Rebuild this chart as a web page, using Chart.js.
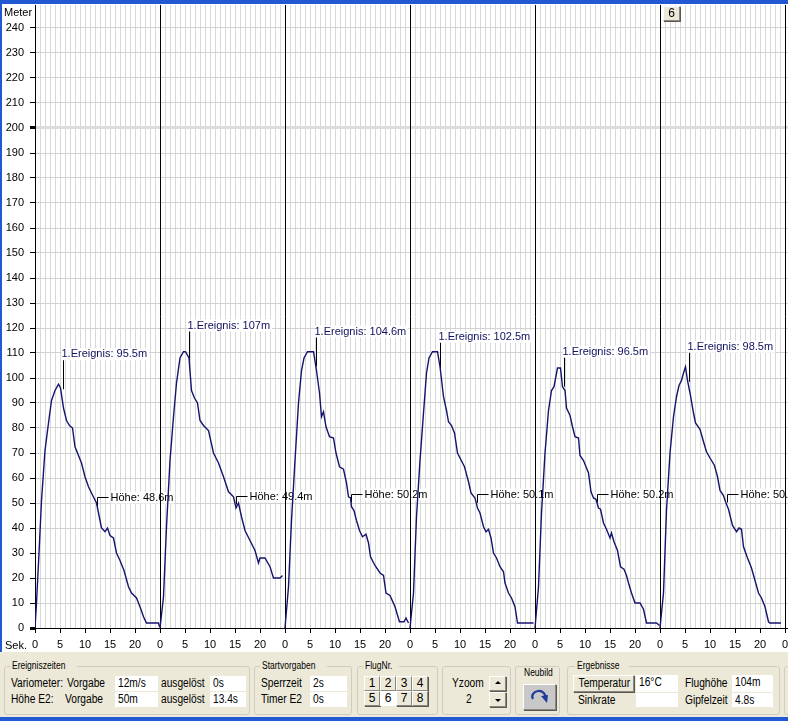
<!DOCTYPE html>
<html><head><meta charset="utf-8">
<script src="https://cdn.jsdelivr.net/npm/chart.js@4.4.1/dist/chart.umd.min.js"></script>
<style>
html,body{margin:0;padding:0;width:788px;height:721px;overflow:hidden;background:#fff;font-family:"Liberation Sans",Arial,sans-serif;}
#wrap{position:relative;width:788px;height:721px;overflow:hidden;}
#c{position:absolute;left:0;top:0;}
.blue{position:absolute;background:#2258d4;}
#panel{position:absolute;left:0;top:652px;width:788px;height:65px;background:#ece9d8;font-size:12px;color:#000;}
#panel span{display:inline-block;transform:scaleX(0.85);transform-origin:left center;}
.b span{transform-origin:center center !important;}
.gb{position:absolute;top:14px;height:49px;border:1px solid #cfcdbd;border-radius:3px;box-sizing:border-box;}
.gt{position:absolute;top:8px;font-size:10px;line-height:12px;background:#ece9d8;padding:0 2px;}
.t{position:absolute;line-height:15px;height:15px;white-space:nowrap;}
.f{position:absolute;background:#fff;line-height:15px;height:15px;padding-left:3px;box-sizing:border-box;white-space:nowrap;}
.b{position:absolute;background:#ece9d8;border-top:1px solid #fff;border-left:1px solid #fff;border-right:1px solid #8a887e;border-bottom:1px solid #8a887e;box-shadow:1px 1px 0 #5a5950;box-sizing:border-box;text-align:center;line-height:13px;}
.sel{background:#fff;border:none;box-shadow:none;}
#six{position:absolute;left:663px;top:6px;width:17px;height:15px;font-size:12px;}
</style></head>
<body><div id="wrap">
<canvas id="c" width="788" height="652"></canvas>
<div class="b" id="six">6</div>
<div class="blue" style="left:0;top:0;width:788px;height:4px;"></div>
<div class="blue" style="left:0;top:0;width:2px;height:721px;"></div>
<div id="panel">
  <div class="gb" style="left:4px;width:246px;"></div>
  <div class="gt" style="left:10px;"><span>Ereigniszeiten</span></div>
  <div class="t" style="left:11px;top:24px;"><span>Variometer:</span></div>
  <div class="t" style="left:67px;top:24px;"><span>Vorgabe</span></div>
  <div class="f" style="left:115px;top:24px;width:43px;"><span>12m/s</span></div>
  <div class="t" style="left:161px;top:24px;"><span>ausgelöst</span></div>
  <div class="f" style="left:210px;top:24px;width:36px;"><span>0s</span></div>
  <div class="t" style="left:11px;top:40px;"><span>Höhe E2:</span></div>
  <div class="t" style="left:65px;top:40px;"><span>Vorgabe</span></div>
  <div class="f" style="left:115px;top:40px;width:43px;"><span>50m</span></div>
  <div class="t" style="left:161px;top:40px;"><span>ausgelöst</span></div>
  <div class="f" style="left:210px;top:40px;width:36px;"><span>13.4s</span></div>

  <div class="gb" style="left:254px;width:98px;"></div>
  <div class="gt" style="left:260px;"><span>Startvorgaben</span></div>
  <div class="t" style="left:261px;top:24px;"><span>Sperrzeit</span></div>
  <div class="f" style="left:310px;top:24px;width:37px;"><span>2s</span></div>
  <div class="t" style="left:261px;top:40px;"><span>Timer E2</span></div>
  <div class="f" style="left:310px;top:40px;width:37px;"><span>0s</span></div>

  <div class="gb" style="left:357px;width:81px;"></div>
  <div class="gt" style="left:363px;"><span>FlugNr.</span></div>
  <div class="b" style="left:364px;top:24px;width:16px;height:15px;">1</div>
  <div class="b" style="left:380px;top:24px;width:16px;height:15px;">2</div>
  <div class="b" style="left:396px;top:24px;width:16px;height:15px;">3</div>
  <div class="b" style="left:412px;top:24px;width:16px;height:15px;">4</div>
  <div class="b" style="left:364px;top:39px;width:16px;height:15px;">5</div>
  <div class="b sel" style="left:380px;top:39px;width:16px;height:15px;line-height:15px;">6</div>
  <div class="b" style="left:396px;top:39px;width:16px;height:15px;">7</div>
  <div class="b" style="left:412px;top:39px;width:16px;height:15px;">8</div>

  <div class="gb" style="left:442px;width:69px;"></div>
  <div class="t" style="left:452px;top:24px;"><span>Yzoom</span></div>
  <div class="t" style="left:466px;top:40px;"><span>2</span></div>
  <div class="b" style="left:489px;top:24px;width:17px;height:15px;"><div style="position:absolute;left:5px;top:4px;width:0;height:0;border-left:3px solid transparent;border-right:3px solid transparent;border-bottom:3px solid #000;"></div></div>
  <div class="b" style="left:489px;top:40px;width:17px;height:15px;"><div style="position:absolute;left:5px;top:6px;width:0;height:0;border-left:3px solid transparent;border-right:3px solid transparent;border-top:3px solid #000;"></div></div>

  <div class="gb" style="left:515px;width:45px;"></div>
  <div class="t" style="left:524px;top:13px;font-size:10px;"><span>Neubild</span></div>
  <div class="b" style="left:523px;top:32px;width:33px;height:26px;background:#c8c8c8;">
    <svg width="31" height="24" viewBox="0 0 31 24" style="position:absolute;left:0;top:0;">
      <path d="M9 14 A6.5 5.5 0 1 1 21 13" fill="none" stroke="#1e3a9a" stroke-width="2.2"/>
      <path d="M17 11 L23 18 L24 10 Z" fill="#1e3a9a"/>
    </svg>
  </div>

  <div class="gb" style="left:567px;width:213px;"></div>
  <div class="gt" style="left:575px;"><span>Ergebnisse</span></div>
  <div class="b" style="left:573px;top:23px;width:61px;height:17px;line-height:15px;"><span>Temperatur</span></div>
  <div class="f" style="left:636px;top:23px;width:42px;height:17px;"><span>16°C</span></div>
  <div class="t" style="left:578px;top:41px;"><span>Sinkrate</span></div>
  <div class="f" style="left:636px;top:41px;width:42px;height:14px;"></div>
  <div class="t" style="left:685px;top:24px;"><span>Flughöhe</span></div>
  <div class="f" style="left:732px;top:23px;width:41px;height:17px;"><span>104m</span></div>
  <div class="t" style="left:685px;top:41px;"><span>Gipfelzeit</span></div>
  <div class="f" style="left:732px;top:41px;width:41px;height:14px;"><span>4.8s</span></div>

  <div class="gb" style="left:784px;width:30px;"></div>
</div>
<div class="blue" style="left:0;top:717px;width:788px;height:4px;"></div>
</div>
<script>
// ---- data (seconds relative to each flight start, height in metres) ----
const flightLength = 25;
const flightCount = 6;
const flight1 = [[0,0],[0.3,10],[0.8,30],[1.3,51],[2.0,71],[2.7,82],[3.3,91],[4.0,95],[4.7,97.5],[5.1,96],[5.7,88],[6.3,83],[6.9,81],[7.5,80],[8.0,72.5],[8.7,69],[9.3,66],[10.0,60.5],[10.7,56.5],[11.3,54],[12.3,50],[12.7,46],[13.3,40],[14.0,38.5],[14.5,40],[15.0,37],[15.7,36],[16.3,30],[17.0,27],[17.8,23],[18.7,16.5],[19.3,14],[20.3,12],[21.0,8.5],[21.7,4.5],[22.3,2],[24.7,2],[24.9,0.5]];
const flight2 = [[0,0],[0.7,12.5],[1.3,40.5],[2.0,67],[2.7,84.5],[3.3,98],[4.0,108],[4.7,110.5],[5.1,110.5],[5.8,108],[6.3,95],[6.9,92],[7.5,90],[8.0,83],[8.7,81],[9.7,79],[10.7,70],[11.7,66],[12.7,60.5],[13.7,54.5],[14.7,52.5],[15.2,48],[15.7,50],[16.3,44.5],[17.0,39],[18.0,35],[19.0,31],[19.7,26],[20.0,28],[21.0,28],[22.0,24.5],[22.7,20],[24.0,20],[24.5,21]];
const flight3 = [[0,0],[0.7,16.5],[1.3,43],[2.0,67],[2.7,90],[3.3,103],[3.8,108],[4.5,110.5],[5.7,110.5],[6.3,103],[6.9,94],[7.3,84.5],[7.7,86.5],[8.2,80.5],[8.9,76.5],[9.7,76],[10.2,70],[10.9,64.5],[11.7,63.5],[12.3,58],[12.7,52.5],[13.1,52],[13.3,48.5],[13.8,47],[14.3,43],[14.9,39],[15.5,36.5],[16.2,37.5],[16.7,34],[17.1,28.5],[18.0,25],[19.0,22],[19.7,21],[20.2,14],[21.0,13],[22.0,8.5],[22.9,2.5],[23.8,2.5],[24.2,4],[24.7,2]];
const flight4 = [[0,0],[0.7,14],[1.3,44.5],[2.0,67],[2.7,86],[3.3,102],[3.8,108],[4.5,110.5],[5.5,110.5],[6.0,104.5],[6.7,92.5],[7.3,87],[7.7,82.5],[8.3,81],[8.9,78],[9.5,70],[10.0,68],[10.9,64.5],[11.7,58.5],[12.2,54],[13.0,52],[13.5,48],[14.0,46],[14.7,40.5],[15.2,38.5],[15.7,39.5],[16.2,36],[16.7,30],[17.3,28],[18.0,24.5],[18.7,22.5],[19.0,18],[19.7,14],[20.3,12],[21.0,8.5],[21.5,2],[24.7,2]];
const flight5 = [[0,0],[0.7,16.5],[1.3,46],[2.0,70],[2.7,87],[3.3,95],[3.8,96.5],[4.5,104],[5.1,104],[5.5,96.5],[6.0,95],[6.3,88],[7.0,85],[7.5,80.5],[8.0,76.5],[8.7,76],[9.0,69],[9.7,67],[10.7,62],[11.2,54.5],[11.7,52],[12.2,51.5],[12.7,48],[13.1,47.5],[13.7,42],[14.3,39.5],[15.0,36],[15.3,38],[15.8,34.5],[16.5,31],[17.1,24.5],[17.8,23.5],[18.3,21],[18.7,18],[19.3,14],[20.0,10],[21.0,10],[21.7,7.5],[22.3,2],[24.3,2],[24.9,1]];
const flight6 = [[0,0],[0.7,14],[1.3,47],[2.0,70],[2.7,84.5],[3.3,92.5],[3.8,97],[4.3,99],[4.7,102],[5.1,104.5],[5.5,99],[6.0,94],[6.7,86],[7.1,82],[8.0,79.5],[8.7,74.5],[9.3,70.5],[10.0,68],[10.9,65],[11.5,60.5],[12.0,55],[12.7,53],[13.1,50.5],[13.7,47.5],[14.5,41],[15.3,38.5],[15.8,40],[16.3,39.5],[16.7,32.5],[17.5,28],[18.3,24],[19.0,19],[19.7,14],[20.3,12],[21.0,8.5],[21.7,2.5],[22.0,2],[24.2,2]];
const flights = [flight1, flight2, flight3, flight4, flight5, flight6];

const eventTimes  = [5.5, 5.8, 6.1, 6.0, 5.7, 5.7];
const eventValues = [95.5, 107, 104.6, 102.5, 96.5, 98.5];
const heightTimes  = [12.3, 15.2, 13.2, 13.3, 12.3, 13.3];
const heightValues = [48.6, 49.4, 50.2, 50.1, 50.2, 50.2];

const yTickValues = [0,10,20,30,40,50,60,70,80,90,100,110,120,130,140,150,160,170,180,190,200,210,220,230,240];
const xTickLabelValues = [0,5,10,15,20];
const xGridValues = [];
for (let i = 0; i <= flightLength * flightCount; i++) xGridValues.push(i);

// ---- drawing ----
const FONT = '11px "Liberation Sans", Arial, sans-serif';
const lineColor = '#14146e';

const markerPlugin = {
  id: 'markers',
  beforeDatasetsDraw(chart) {
    const {ctx, chartArea, scales: {x, y}} = chart;
    ctx.save();
    ctx.font = FONT;
    ctx.textBaseline = 'middle';
    ctx.lineWidth = 1;
    for (let i = 0; i < flightCount; i++) {
      const off = i * flightLength;
      // 1. Ereignis
      const ex = Math.round(x.getPixelForValue(off + eventTimes[i])) + 0.5;
      const ey = y.getPixelForValue(eventValues[i]);
      const lab = '1.Ereignis: ' + eventValues[i] + 'm';
      const w = ctx.measureText(lab).width;
      ctx.fillStyle = '#fff';
      ctx.fillRect(ex - 2, ey - 41, w + 2, 12);
      ctx.fillStyle = '#10105e';
      ctx.fillText(lab, ex - 2, ey - 35);
      ctx.strokeStyle = '#000';
      ctx.beginPath(); ctx.moveTo(ex, ey); ctx.lineTo(ex, ey - 29); ctx.stroke();
      // Höhe
      const hx = Math.round(x.getPixelForValue(off + heightTimes[i])) + 0.5;
      const hy = y.getPixelForValue(heightValues[i]);
      const hl = Math.round(hy - 9) + 0.5;
      const lab2 = 'Höhe: ' + heightValues[i] + 'm';
      const w2 = ctx.measureText(lab2).width;
      ctx.fillStyle = '#fff';
      ctx.fillRect(hx + 13, hl - 6, w2 + 1, 12);
      ctx.fillStyle = '#000';
      ctx.fillText(lab2, hx + 13, hl);
      ctx.beginPath(); ctx.moveTo(hx, hy); ctx.lineTo(hx, hl); ctx.lineTo(hx + 11, hl); ctx.stroke();
    }
    // flight separators on top of label backgrounds
    ctx.strokeStyle = '#000';
    for (let i = 1; i <= flightCount; i++) {
      const sx = Math.round(x.getPixelForValue(i * flightLength)) + 0.5;
      ctx.beginPath(); ctx.moveTo(sx, chartArea.top); ctx.lineTo(sx, chartArea.bottom); ctx.stroke();
    }
    ctx.restore();
  },
  afterDraw(chart) {
    const {ctx} = chart;
    ctx.save();
    ctx.font = FONT;
    ctx.fillStyle = '#000';
    ctx.textBaseline = 'middle';
    ctx.fillText('Meter', 4, 13);
    ctx.fillText('Sek.', 5, 646);
    ctx.restore();
  }
};

const datasets = flights.map((f, i) => ({
  data: f.map(p => ({x: i * flightLength + p[0], y: p[1]})),
  borderColor: lineColor,
  borderWidth: 1.4,
  pointRadius: 0,
  fill: false,
  tension: 0
}));

new Chart(document.getElementById('c'), {
  type: 'line',
  data: {datasets},
  options: {
    responsive: false,
    animation: false,
    devicePixelRatio: 1,
    layout: {autoPadding: false, padding: {top: 5, left: 0, right: 0, bottom: 0}},
    plugins: {legend: {display: false}, tooltip: {enabled: false}},
    scales: {
      x: {
        type: 'linear', min: 0, max: 150.6,
        afterBuildTicks: s => { s.ticks = xGridValues.map(v => ({value: v})); },
        afterFit: s => { s.height = 24; s.paddingLeft = 0; s.paddingRight = 0; },
        grid: {
          color: c => (c.tick && c.tick.value === 0) ? '#000' : '#d8d8d8',
          lineWidth: 1,
          tickLength: 5,
          tickColor: c => (c.tick && c.tick.value % 5 === 0) ? '#000' : 'rgba(0,0,0,0)',
          tickWidth: 1
        },
        border: {display: true, color: '#000', width: 1},
        ticks: {
          autoSkip: false, maxRotation: 0, minRotation: 0, padding: 5, color: '#000',
          font: {family: '"Liberation Sans", Arial, sans-serif', size: 11},
          callback: v => {
            const r = v % flightLength;
            return xTickLabelValues.includes(r) ? String(r) : '';
          }
        }
      },
      y: {
        min: 0, max: 249.2,
        afterBuildTicks: s => { s.ticks = yTickValues.map(v => ({value: v})); },
        afterFit: s => { s.width = 35; s.paddingTop = 0; s.paddingBottom = 0; },
        grid: {
          color: c => (c.tick && c.tick.value === 200) ? '#dcdcdc' : '#d2d2d2',
          lineWidth: c => (c.tick && c.tick.value === 200) ? 3 : 1,
          tickLength: 5,
          tickColor: '#000',
          tickWidth: c => (c.tick && (c.tick.value === 200 || c.tick.value === 0)) ? 3 : 1
        },
        border: {display: true, color: '#000', width: 1},
        ticks: {
          padding: 6, color: '#000',
          font: {family: '"Liberation Sans", Arial, sans-serif', size: 11},
          callback: v => String(v)
        }
      }
    }
  },
  plugins: [markerPlugin]
});
</script>
</body></html>
